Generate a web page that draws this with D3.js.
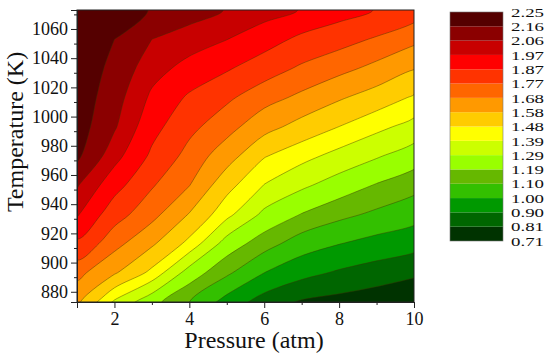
<!DOCTYPE html>
<html>
<head>
<meta charset="utf-8">
<script src="https://cdn.jsdelivr.net/npm/d3@7"></script>
<style>
  body { margin: 0; background: #fff; }
  text { font-family: "Liberation Serif", "Times New Roman", serif; fill: #111; }
</style>
</head>
<body>
<svg width="550" height="359"></svg>
<script>
// Grid: columns = pressure (atm), rows = temperature (K), top row first
const pressures = [1, 2, 3, 4, 5, 6, 7, 8, 9, 10];
const temperatures = [1073, 1053, 1033, 1013, 993, 973, 953, 933, 913, 893, 873];
const values = [
  [2.25, 2.21, 2.154, 2.106, 2.055, 2.01, 1.965, 1.915, 1.865, 1.82],
  [2.24, 2.16, 2.06, 2.015, 1.972, 1.915, 1.847, 1.805, 1.76, 1.706],
  [2.235, 2.13, 2.006, 1.938, 1.881, 1.815, 1.755, 1.709, 1.653, 1.585],
  [2.225, 2.10, 1.952, 1.855, 1.787, 1.716, 1.659, 1.592, 1.534, 1.468],
  [2.21, 2.071, 1.904, 1.795, 1.715, 1.617, 1.542, 1.479, 1.415, 1.356],
  [2.18, 2.004, 1.851, 1.738, 1.626, 1.487, 1.421, 1.358, 1.30, 1.239],
  [2.068, 1.908, 1.779, 1.683, 1.514, 1.387, 1.309, 1.244, 1.183, 1.132],
  [1.98, 1.809, 1.712, 1.574, 1.418, 1.266, 1.186, 1.126, 1.081, 1.04],
  [1.85, 1.713, 1.596, 1.453, 1.245, 1.141, 1.05, 1.003, 0.965, 0.934],
  [1.71, 1.591, 1.455, 1.244, 1.118, 1.00, 0.93, 0.887, 0.855, 0.825],
  [1.60, 1.375, 1.221, 1.10, 0.96, 0.855, 0.80, 0.78, 0.76, 0.74]
];

// Contour levels (colour bar labels) and band colours, lowest band first
const levels = [0.71, 0.81, 0.90, 1.00, 1.10, 1.19, 1.29, 1.39, 1.48, 1.58, 1.68, 1.77, 1.87, 1.97, 2.06, 2.16, 2.25];
const bandColors = ["#003300", "#006600", "#009900", "#33c000", "#66b800", "#99ff00", "#ccff00", "#ffff00",
                    "#ffcc00", "#ff9900", "#ff6600", "#ff3300", "#ff0000", "#c80000", "#8b0000", "#550000"];

const xTicks = [2, 4, 6, 8, 10];
const yTicks = [880, 900, 920, 940, 960, 980, 1000, 1020, 1040, 1060];

const svg = d3.select("svg");
const plotLeft = 77, plotRight = 414, plotTop = 10, plotBottom = 302;

const x = d3.scaleLinear().domain([1, 10]).range([plotLeft, plotRight]);
const y = d3.scaleLinear().domain([873, 1073]).range([plotBottom, plotTop]);

// grid cell centres sit at i + 0.5 in d3.contours space
const gx = d3.scaleLinear().domain([0.5, pressures.length - 0.5]).range([x(pressures[0]), x(pressures[pressures.length - 1])]);
const gy = d3.scaleLinear().domain([0.5, temperatures.length - 0.5]).range([y(temperatures[0]), y(temperatures[temperatures.length - 1])]);

const contours = d3.contours()
  .size([pressures.length, temperatures.length])
  .thresholds(levels.slice(0, bandColors.length))(values.flat());

// smooth each ring a little so the bands look less polygonal
const ringLine = d3.line().curve(d3.curveCatmullRomClosed.alpha(0.5));
function contourPath(c) {
  return c.coordinates.map(polygon => polygon.map(ring =>
    ringLine(ring.slice(0, -1).map(p => [gx(p[0]), gy(p[1])]))
  ).join("")).join("");
}

svg.append("clipPath").attr("id", "plot")
  .append("rect").attr("x", plotLeft).attr("y", plotTop).attr("width", plotRight - plotLeft).attr("height", plotBottom - plotTop);

const plot = svg.append("g").attr("clip-path", "url(#plot)");

plot.selectAll("path.band")
  .data(contours)
  .enter().append("path")
  .attr("class", "band")
  .attr("d", contourPath)
  .attr("fill-rule", "evenodd")
  .attr("fill", (d, i) => bandColors[i])
  .attr("stroke", "none");

// thin lines on the level boundaries (skip the lowest, it covers everything)
plot.selectAll("path.line")
  .data(contours.slice(1))
  .enter().append("path")
  .attr("class", "line")
  .attr("d", contourPath)
  .attr("fill", "none")
  .attr("stroke", "#3a3000")
  .attr("stroke-opacity", 0.6)
  .attr("stroke-width", 0.7);

// frame
svg.append("rect")
  .attr("x", plotLeft).attr("y", plotTop).attr("width", plotRight - plotLeft).attr("height", plotBottom - plotTop)
  .attr("fill", "none").attr("stroke", "#222").attr("stroke-width", 1);

// axes
const axisFont = g => g.attr("font-family", "Liberation Serif, serif").attr("font-size", 18);

svg.append("g").attr("transform", `translate(0,${plotBottom})`)
  .call(d3.axisBottom(x).tickValues(xTicks).tickSize(6).tickPadding(4).tickFormat(d3.format("d")))
  .call(axisFont);
svg.append("g").attr("transform", `translate(0,${plotBottom})`)
  .call(d3.axisBottom(x).tickValues([3, 5, 7, 9]).tickSize(3).tickFormat(""));
svg.append("g").attr("transform", `translate(${plotLeft},0)`)
  .call(d3.axisLeft(y).tickValues(yTicks).tickSize(6).tickPadding(3).tickFormat(d3.format("d")))
  .call(axisFont);
svg.append("g").attr("transform", `translate(${plotLeft},0)`)
  .call(d3.axisLeft(y).tickValues(d3.range(890, 1073, 20)).tickSize(3).tickFormat(""));

svg.selectAll(".domain").attr("stroke", "#222");
svg.selectAll(".tick line").attr("stroke", "#222");
svg.selectAll(".tick text").attr("fill", "#111");

svg.append("text")
  .attr("x", 254).attr("y", 348)
  .attr("text-anchor", "middle")
  .style("font-size", "24px")
  .text("Pressure (atm)");

svg.append("text")
  .attr("transform", "translate(23,132) rotate(-90)")
  .attr("text-anchor", "middle")
  .style("font-size", "24px")
  .text("Temperature (K)");

// colour bar
const cb = d3.scalePoint().domain(levels).range([241, 12]);
const cbx = 450, cbw = 53;

svg.append("g").selectAll("rect")
  .data(bandColors)
  .enter().append("rect")
  .attr("x", cbx)
  .attr("y", (d, i) => cb(levels[i + 1]))
  .attr("width", cbw)
  .attr("height", (d, i) => cb(levels[i]) - cb(levels[i + 1]))
  .attr("fill", d => d);

svg.append("rect")
  .attr("x", cbx).attr("y", cb(levels[levels.length - 1]))
  .attr("width", cbw).attr("height", cb(levels[0]) - cb(levels[levels.length - 1]))
  .attr("fill", "none").attr("stroke", "#777").attr("stroke-width", 0.6);

svg.append("g").selectAll("text")
  .data(levels)
  .enter().append("text")
  .attr("x", 511)
  .attr("y", d => cb(d))
  .attr("dy", "0.35em")
  .attr("textLength", 33)
  .attr("lengthAdjust", "spacingAndGlyphs")
  .style("font-size", "13.5px")
  .text(d => d.toFixed(2));
</script>
</body>
</html>
